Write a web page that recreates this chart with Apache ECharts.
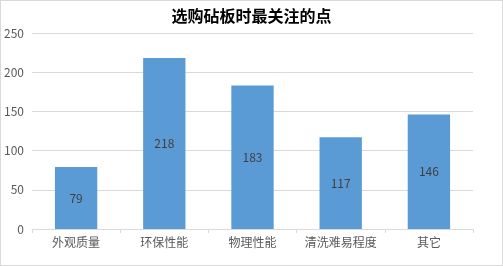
<!DOCTYPE html>
<html><head><meta charset="utf-8">
<script src="https://cdn.jsdelivr.net/npm/echarts@6/dist/echarts.min.js"></script>
<style>html,body{margin:0;padding:0;background:#fff}
#c{position:absolute;left:0;top:0;width:501px;height:264px;border:1px solid #D9D9D9}</style>
</head><body><div id="c"></div>
<script>
const title = '选购砧板时最关注的点';
const categories = ['外观质量','环保性能','物理性能','清洗难易程度','其它'];
const values = [79, 218, 183, 117, 146];
const yTicks = {min:0, max:250, interval:50};
const chart = echarts.init(document.getElementById('c'));
const font = '"Microsoft YaHei","Noto Sans CJK SC",sans-serif';
chart.setOption({
  animation:false,
  title:{text:title,left:'center',top:2,textStyle:{fontSize:16,fontWeight:'bold',color:'#000',fontFamily:'"Noto Sans CJK SC",serif'}},
  grid:{left:31,right:29,top:32,bottom:36},
  xAxis:{type:'category',data:categories,
    axisLine:{lineStyle:{color:'#D9D9D9'}},
    axisTick:{show:true,length:4,lineStyle:{color:'#D9D9D9'}},
    axisLabel:{interval:0,color:'#595959',fontSize:12,fontFamily:font,margin:7}},
  yAxis:{type:'value',min:yTicks.min,max:yTicks.max,interval:yTicks.interval,
    axisLine:{show:false},axisTick:{show:false},
    splitLine:{lineStyle:{color:'#D9D9D9'}},
    axisLabel:{color:'#595959',fontSize:12,fontFamily:font,margin:8}},
  series:[{type:'bar',data:values,barWidth:'48%',
    itemStyle:{color:'#5B9BD5'},
    label:{show:true,position:'inside',color:'#404040',fontSize:12,fontFamily:font}}]
});
</script></body></html>
